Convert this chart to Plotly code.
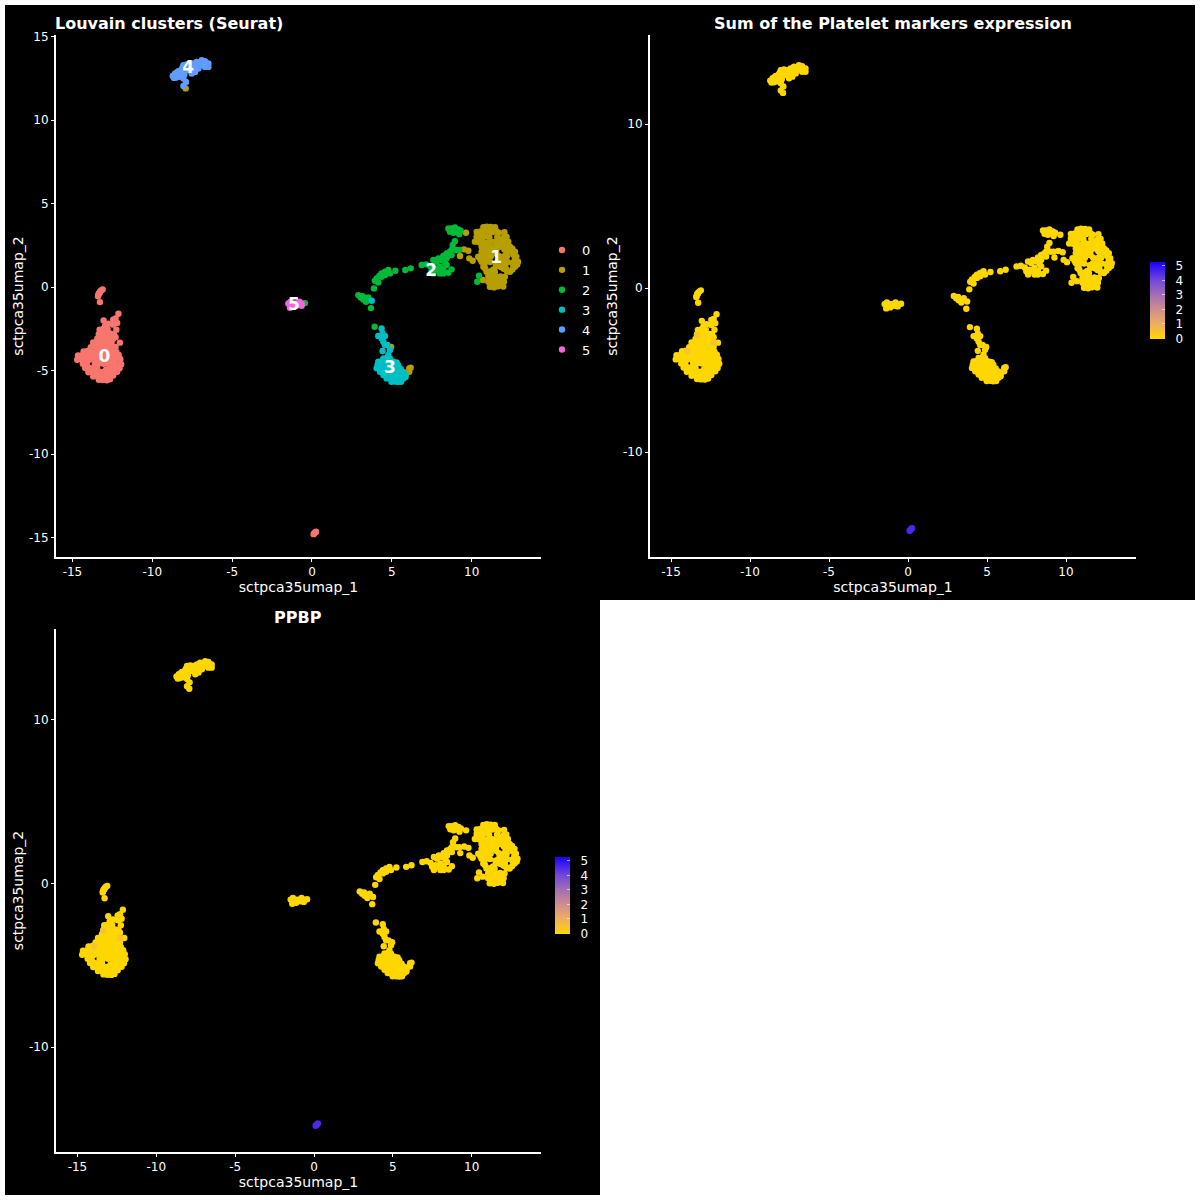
import plotly.graph_objects as go

cluster0 = [(-13.28,-0.9),(-13.38,-0.48),(-13.28,-0.28),(-13.11,-0.14),(-13.2,-0.2),(-13.35,-0.38),(-13.4,-0.55),(-13.3,-0.35),
(-12.12,-1.6),(-12.3,-1.88),(-12.45,-1.95),(-13.05,-2.0),(-12.75,-2.2),(-12.45,-2.25),(-12.2,-2.15),(-12.95,-2.32),
(-13.3,-2.55),(-13.05,-2.5),(-12.8,-2.52),(-12.25,-2.55),(-13.35,-2.82),(-13.1,-2.78),(-12.85,-2.85),(-12.6,-2.8),(-12.4,-2.82),
(-13.45,-3.1),(-13.2,-3.05),(-12.95,-3.12),(-12.7,-3.08),(-12.45,-3.1),(-12.3,-3.0),(-13.7,-3.32),(-13.4,-3.3),(-13.1,-3.35),(-12.8,-3.28),(-12.55,-3.32),(-12.03,-3.33),
(-13.85,-3.6),(-13.6,-3.55),(-13.3,-3.62),(-13.05,-3.58),(-12.8,-3.6),(-12.55,-3.63),(-12.3,-3.58),
(-14.3,-3.85),(-14.05,-3.82),(-13.8,-3.88),(-13.5,-3.85),(-13.25,-3.83),(-13.0,-3.88),(-12.7,-3.85),(-12.45,-3.82),(-12.25,-3.88),
(-14.65,-4.1),(-14.4,-4.08),(-14.15,-4.12),(-13.9,-4.1),(-13.6,-4.07),(-13.35,-4.13),(-13.1,-4.1),(-12.85,-4.08),(-12.6,-4.12),(-12.3,-4.1),(-12.1,-4.07),
(-14.7,-4.35),(-14.45,-4.33),(-14.2,-4.37),(-13.95,-4.35),(-13.7,-4.32),(-13.4,-4.38),(-13.15,-4.35),(-12.9,-4.33),(-12.6,-4.37),(-12.35,-4.35),(-12.0,-4.32),
(-14.35,-4.6),(-14.1,-4.58),(-13.6,-4.6),(-13.3,-4.57),(-13.05,-4.6),(-12.8,-4.6),(-12.5,-4.58),(-12.25,-4.62),(-11.95,-4.62),
(-14.2,-4.85),(-13.95,-4.83),(-13.7,-4.87),(-13.45,-4.85),(-12.9,-4.95),(-12.65,-4.85),(-12.35,-4.83),(-12.05,-4.87),
(-14.0,-5.1),(-13.75,-5.08),(-13.5,-5.12),(-13.25,-5.1),(-13.0,-5.07),(-12.7,-5.13),(-12.45,-5.1),(-12.2,-5.08),
(-13.7,-5.35),(-13.45,-5.33),(-13.2,-5.37),(-12.95,-5.35),(-12.7,-5.33),(-12.45,-5.3),(-13.35,-5.55),(-13.1,-5.57),(-12.85,-5.58),(-12.65,-5.52)]
cluster0_tip = [(0.1,-14.8),(0.15,-14.75),(0.2,-14.7),(0.25,-14.65)]
tip_expression = [4.6,4.6,4.6,4.6]
low_points = [(-13.36,-2.87),(-13.95,-3.85),(-12.3,-3.32)]
low_expression = [0.5,0.5,0.5]

cluster1 = [(10.73,3.58),(10.95,3.62),(11.2,3.6),(11.46,3.58),(10.31,3.3),(10.55,3.33),(10.8,3.28),(11.05,3.32),(11.3,3.3),(11.55,3.34),(12.05,3.28),
(10.31,3.02),(10.55,3.0),(10.82,3.05),(11.1,2.98),(11.6,3.0),(12.19,3.0),(10.2,2.72),(10.45,2.7),(10.7,2.74),(11.0,2.68),(11.25,2.72),(11.5,2.7),(11.75,2.74),(12.0,2.68),(12.29,2.72),
(10.62,2.42),(10.88,2.4),(11.12,2.44),(11.4,2.38),(11.65,2.42),(11.9,2.4),(12.15,2.44),(12.4,2.42),(10.62,2.12),(10.9,2.15),(11.15,2.1),(11.42,2.14),(12.2,2.1),(12.45,2.14),(12.71,2.12),
(10.41,1.82),(10.68,1.85),(10.92,1.8),(11.2,1.84),(11.72,1.85),(12.0,1.8),(12.22,1.84),(12.8,1.82),(10.62,1.52),(10.88,1.55),(11.15,1.5),(11.7,1.5),(11.98,1.55),(12.25,1.5),(12.75,1.5),(12.9,1.52),
(10.73,1.22),(11.55,1.24),(11.82,1.2),(12.1,1.25),(12.71,1.22),(10.93,0.92),(11.2,0.95),(11.45,0.9),(12.22,0.94),(12.4,0.92),
(11.04,0.62),(11.3,0.65),(11.55,0.6),(11.8,0.64),(12.08,0.62),(11.04,0.32),(11.28,0.35),(11.52,0.3),(11.78,0.34),(12.02,0.32),(11.14,0.02),(11.4,-0.02),(11.65,0.05),(11.98,0.03),
(11.85,2.85),(12.0,2.95),(11.7,3.25),(11.4,3.45),(11.1,3.45),(10.85,3.45),(10.5,3.15),(12.1,2.85),(12.3,2.5),(12.5,2.3),(12.6,1.95),(12.55,2.3),(12.1,1.9),(11.55,2.0),(11.05,2.0),(10.8,2.0),(10.55,1.65),(10.8,1.35),(10.85,1.1),(11.35,1.05),(11.5,1.4),(11.7,1.35),(11.9,1.35),(12.15,1.05),(12.55,1.05),(12.6,1.35),(12.85,1.35),(12.7,1.65),(12.0,1.1),(11.35,0.8),(11.2,0.5),(11.45,0.45),(11.65,0.45),(11.9,0.48),(11.3,0.15),(11.55,0.15),(11.8,0.15),(11.0,2.3),(11.3,2.3),(11.55,2.25),(11.8,2.55),(12.05,2.25),(12.35,2.25),(12.1,2.6),(12.55,1.45),
(9.64,3.25),(9.52,2.26),(9.79,2.18),(9.27,1.86),(9.85,1.72),(10.06,1.58),(10.69,0.42),(6.09,-4.87),(6.09,-5.07),(6.18,-4.83),(4.95,-3.59),(-7.91,11.9)]

cluster2 = [(8.54,3.51),(8.74,3.51),(8.95,3.57),(9.16,3.45),(8.64,3.31),(8.85,3.25),(9.06,3.31),(9.22,3.17),(9.31,3.37),(8.95,2.75),(8.81,2.52),(9.22,2.22),(9.02,2.22),(8.74,2.22),
(8.64,2.12),(8.43,2.02),(8.74,1.92),(8.22,1.86),(7.91,1.72),(8.43,1.72),(7.6,1.62),(8.12,1.62),(7.8,1.52),(8.33,1.46),(6.87,1.32),(7.14,1.36),(7.39,1.26),(8.01,1.22),(8.43,1.32),(7.7,1.12),(8.22,1.06),(8.74,1.06),(8.54,0.86),(8.01,0.82),(8.22,0.82),(7.91,1.02),(7.49,1.02),(7.6,0.82),
(6.18,1.12),(5.84,1.02),(5.22,0.98),(4.78,1.02),(4.57,0.92),(4.36,0.82),(4.22,0.68),(4.05,0.52),(3.94,0.38),(4.15,0.28),(4.88,0.82),(4.57,0.72),(4.36,0.62),(3.88,-0.08),
(2.9,-0.48),(3.05,-0.62),(3.21,-0.74),(3.38,-0.88),(3.53,-0.62),(3.17,-0.54),(3.32,-0.68),(3.69,-1.26),(3.92,-2.38),(10.46,0.68),(10.35,0.32),(-0.44,-0.96)]

cluster3 = [(3.74,-0.82),(4.36,-2.48),(4.42,-2.77),(4.15,-2.93),(4.57,-2.93),(4.36,-3.07),(4.47,-3.27),(4.57,-3.47),(4.72,-3.47),(4.42,-3.83),(4.88,-3.77),(4.78,-4.07),
(4.47,-4.27),(4.67,-4.25),(4.88,-4.28),(4.15,-4.47),(4.36,-4.45),(4.57,-4.49),(4.78,-4.46),(5.09,-4.47),(5.3,-4.52),(4.1,-4.67),(4.3,-4.66),(4.52,-4.68),(4.75,-4.65),(4.98,-4.69),(5.2,-4.67),(5.4,-4.68),
(4.05,-4.87),(4.27,-4.86),(4.48,-4.88),(4.7,-4.85),(4.92,-4.89),(5.14,-4.87),(5.36,-4.86),(5.55,-4.9),(4.26,-5.07),(4.47,-5.06),(4.67,-5.08),(4.88,-5.05),(5.09,-5.09),(5.3,-5.07),(5.51,-5.06),(5.72,-5.08),
(4.47,-5.27),(4.67,-5.26),(4.88,-5.28),(5.09,-5.25),(5.3,-5.29),(5.51,-5.27),(5.72,-5.26),(5.86,-5.28),(4.67,-5.47),(4.88,-5.46),(5.09,-5.48),(5.3,-5.45),(5.51,-5.49),(5.72,-5.47),(5.86,-5.38),(4.98,-5.67),(5.2,-5.66),(5.4,-5.68),(5.58,-5.67)]

cluster4 = [(-8.72,12.65),(-8.57,12.79),(-8.64,12.53),(-8.37,12.73),(-8.37,12.93),(-8.16,13.05),(-8.05,13.29),(-7.85,13.33),(-8.05,12.49),(-7.89,12.29),(-8.05,12.05),(-7.99,12.73),(-7.64,13.29),(-7.43,13.39),(-7.22,13.49),(-6.9,13.59),(-6.7,13.53),(-6.49,13.39),(-6.49,13.19),(-6.7,13.19),(-7.01,13.29),(-7.11,13.09),(-7.32,12.89),(-7.53,12.79),(-7.74,12.99),(-6.9,13.39),(-7.22,13.29),(-7.43,13.13),(-8.2,12.85),(-8.55,12.62),
(-8.45,12.85),(-7.9,13.1),(-7.65,13.05),(-7.5,13.2),(-7.0,13.45),(-6.75,13.35),(-7.2,13.1),(-8.1,13.15),(-8.55,12.75),(-8.5,12.55),(-8.3,12.6)]

cluster5 = [(-1.48,-0.98),(-1.34,-0.88),(-1.34,-1.12),(-1.13,-0.98),(-1.13,-1.18),(-0.96,-0.98),(-0.79,-0.88),(-0.65,-0.98),(-0.65,-1.12),(-1.38,-1.24),(-0.85,-1.08)]

cluster_names = ["0","1","2","3","4","5"]
cluster_colors = ["#F8766D","#B79F00","#00BA38","#00BFC4","#619CFF","#F564E3"]
label_x = [-13.0,11.53,7.46,4.88,-7.76,-1.13]
label_y = [-4.23,1.7,0.9,-4.9,13.05,-1.12]
titles = ["Louvain clusters (Seurat)","Sum of the Platelet markers expression","PPBP"]
x_ticks = [-15,-10,-5,0,5,10]
y_ticks_a = [-15,-10,-5,0,5,10,15]
y_ticks_b = [-10,0,10]
x_title = "sctpca35umap_1"
y_title = "sctpca35umap_2"
scale_start = 0
scale_step = 1
gold_blue = [[0,"#FFD700"],[0.19,"#EFAF5E"],[0.38,"#CF8F8C"],[0.57,"#A56FB4"],[0.76,"#7349D8"],[1,"#1A00FF"]]

FONT = "DejaVu Sans"
W = H = 1200
MS = 6.4
groups = [cluster0 + cluster0_tip, cluster1, cluster2, cluster3, cluster4, cluster5]
rest = cluster0 + cluster1 + cluster2 + cluster3 + cluster4 + cluster5

def xs(p): return [a for a, _ in p]
def ys(p): return [b for _, b in p]

fig = go.Figure()
for name, color, pts in zip(cluster_names, cluster_colors, groups):
    fig.add_trace(go.Scatter(x=xs(pts), y=ys(pts), mode="markers", name=name,
                             marker=dict(color=color, size=MS, line=dict(width=0)),
                             xaxis="x", yaxis="y", legend="legend"))
fig.add_trace(go.Scatter(x=label_x, y=label_y, mode="text", text=cluster_names, showlegend=False,
                         textfont=dict(family=FONT, size=17, color="white", weight="bold"),
                         textposition="middle center", xaxis="x", yaxis="y"))

def expr_trace(xa, ya, cbx, cby):
    pts = rest + low_points + cluster0_tip
    vals = [0 for _ in rest] + low_expression + tip_expression
    return go.Scatter(x=xs(pts), y=ys(pts), mode="markers", showlegend=False, xaxis=xa, yaxis=ya,
                      marker=dict(color=vals, cmin=0, cmax=5.3, colorscale=gold_blue, size=MS, line=dict(width=0),
                                  colorbar=dict(x=cbx/W, xanchor="left", y=1-cby/H, yanchor="middle",
                                                lenmode="pixels", len=77, thickness=15, thicknessmode="pixels",
                                                outlinewidth=0, tickmode="linear", tick0=scale_start, dtick=scale_step,
                                                ticks="inside", ticklen=3,
                                                tickprefix="\u00a0\u00a0",
                                                tickcolor="rgba(255,255,255,0.6)", tickfont=dict(family=FONT, size=12, color="white"),
                                                xpad=0, ypad=0)))
fig.add_trace(expr_trace("x2", "y2", 1150, 300))
fig.add_trace(expr_trace("x3", "y3", 555, 895))

def axis(dom, rng, ticks, title, anchor, standoff):
    return dict(domain=[d/W for d in dom], range=rng, tickmode="array", tickvals=ticks, ticktext=[str(t) for t in ticks],
                showgrid=False, zeroline=False, showline=True, linecolor="white", linewidth=2, ticks="outside",
                ticklen=3, tickcolor="white", tickfont=dict(family=FONT, size=12, color="white"),
                title=dict(text=title, font=dict(family=FONT, size=14, color="white"), standoff=standoff), anchor=anchor)

shapes = [dict(type="rect", xref="paper", yref="paper", x0=a/W, x1=b/W, y0=1-d/H, y1=1-c/H, fillcolor="black", line=dict(width=0), layer="below")
          for a, b, c, d in [(5,600,5,600),(600,1195,5,600),(5,600,600,1195)]]

def title_note(text, px, py, anchor):
    return dict(text=f"<b>{text}</b>", xref="paper", yref="paper", x=px/W, y=1-py/H, xanchor=anchor, yanchor="middle",
                showarrow=False, font=dict(family=FONT, size=16, color="white"))

fig.update_layout(
    width=W, height=H, margin=dict(l=0, r=0, t=0, b=0, autoexpand=False), paper_bgcolor="white", plot_bgcolor="black", shapes=shapes,
    xaxis=axis([56,541], [-16.03,14.34], x_ticks, x_title, "y", 0),
    yaxis=axis([643,1165], [-16.17,15.1], y_ticks_a, y_title, "x", 2),
    xaxis2=axis([650,1136], [-16.33,14.43], x_ticks, x_title, "y2", 0),
    yaxis2=axis([643,1165], [-16.4,15.43], y_ticks_b, y_title, "x2", 2),
    xaxis3=axis([56,541], [-16.36,14.39], x_ticks, x_title, "y3", 0),
    yaxis3=axis([48,571], [-16.4,15.55], y_ticks_b, y_title, "x3", 2),
    legend=dict(x=542/W, y=1-235/H, xanchor="left", yanchor="top", bgcolor="rgba(0,0,0,0)",
                font=dict(family=FONT, size=13, color="white"), tracegroupgap=0),
    annotations=[title_note(titles[0],53,23,"left"), title_note(titles[1],893,23,"center"), title_note(titles[2],298,617,"center")],
)
fig.write_html("out.html", post_script="document.body.style.margin='0';", config={"displayModeBar": False})
